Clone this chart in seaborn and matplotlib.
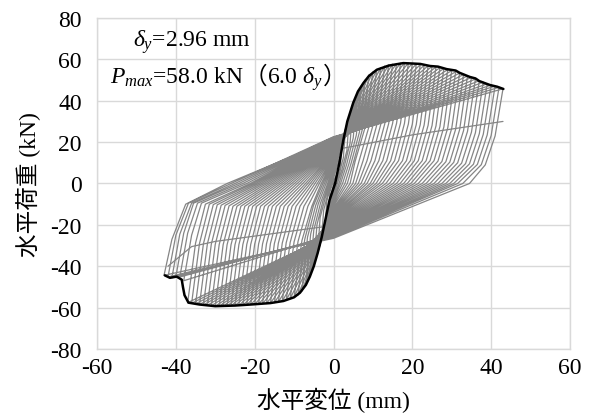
import matplotlib
matplotlib.use("Agg")
import matplotlib.pyplot as plt
import pandas as pd
import seaborn as sns

# cycle amplitudes (mm) and the key points of every loop
amp = [1, 2, 3, 4, 5, 6, 7, 8, 9, 10,
       11, 12, 13, 14, 15, 16, 17, 18, 19, 20,
       21, 22, 23, 24, 25, 26, 27, 28, 29, 30,
       31, 32, 33, 34, 35, 36, 37, 38, 39, 40,
       41, 42, 43]
# peak loads (kN)
f_pos = [5, 15, 25, 32.5, 39, 43.5, 47, 50, 52.5, 54,
         55, 56, 56.8, 57.3, 57.7, 58, 58.2, 58.3, 58.2, 58,
         57.7, 57.4, 57.1, 56.9, 56.6, 56.3, 56, 55.6, 55.1, 54.6,
         54, 53.4, 52.7, 52, 51.3, 50.5, 49.7, 49, 48.2, 47.6,
         47.1, 46.5, 45.8]
f_neg = [-8, -17, -26, -33.5, -40, -45, -49, -52, -54, -55,
         -55.7, -56.4, -56.9, -57.3, -57.6, -57.8, -58, -58.1, -58.3, -58.4,
         -58.5, -58.6, -58.8, -58.9, -59, -59.1, -59.2, -59.3, -59.3, -59.3,
         -59.1, -58.9, -58.7, -58.5, -58.2, -57.9, -57.6, -47, -45.2, -45.1,
         -45.5, -45.2, -44.4]
# unloading curve after the positive peak: two bend points
k1x_pos = [0.9, 1.7, 2.5, 3.4, 4.2, 5.0, 5.8, 6.6, 7.3, 8,
           9, 10, 11, 12, 13, 14, 15, 16, 17, 18,
           19, 20, 21, 22, 23, 24, 25, 26, 27, 28,
           29, 30, 31, 32, 33, 34, 35, 36, 37, 38,
           39, 40, 41]
k1y_pos = [2.5, 7.5, 12.5, 16, 19.5, 22, 23.5, 25, 26, 27,
           27.5, 28, 28.4, 28.6, 28.8, 29, 29.1, 29.1, 29.1, 29,
           28.8, 28.7, 28.5, 28.4, 28.3, 28.1, 28, 27.8, 27.5, 27.3,
           27, 26.7, 26.3, 26, 25.6, 25.2, 24.8, 24.5, 24.1, 23.8,
           23.5, 23.2, 23]
k2x_pos = [0.5, 1.0, 1.5, 2.1, 2.7, 3.3, 3.9, 4.5, 5.1, 5.5,
           6.5, 7.5, 8.5, 9.5, 10.5, 11.5, 12.5, 13.5, 14.5, 15.5,
           16.5, 17.5, 18.5, 19.5, 20.5, 21.5, 22.5, 23.5, 24.5, 25.5,
           26.5, 27.5, 28.5, 29.5, 30.5, 31.5, 32.5, 33.5, 34.5, 35.5,
           36.5, 37.5, 38.5]
k2y_pos = [1, 3, 5, 6.5, 8, 9, 9.5, 10, 10.5, 10.8,
           11, 11, 11, 11, 11, 11, 11, 11, 11, 11,
           11, 11, 11, 11, 11, 11, 11, 11, 11, 11,
           10.8, 10.6, 10.5, 10.3, 10.2, 10, 9.8, 9.6, 9.5, 9.3,
           9.2, 9.1, 9]
# residual displacement at zero load after the positive peak
x0_pos = [0.2, 0.4, 0.7, 1.0, 1.4, 1.8, 2.3, 2.9, 3.5, 4.2,
          4.9, 5.6, 6.3, 7.0, 7.8, 8.5, 9.3, 10.0, 10.8, 11.6,
          12.4, 13.3, 14.2, 15.1, 16.0, 16.9, 17.8, 18.7, 19.6, 20.5,
          21.5, 22.5, 23.5, 24.5, 25.5, 26.5, 27.5, 28.5, 29.5, 30.5,
          31.5, 32.8, 34.5]
# load at zero displacement on the way to the negative peak
y0_neg = [-1, -2.5, -4, -5.5, -7, -8, -9, -10, -11, -12,
          -12.5, -13, -13.5, -14, -14.5, -15, -15.5, -16, -16.5, -17,
          -17.5, -18, -18.5, -19, -19.5, -20, -20.5, -21, -21.5, -22,
          -22.3, -22.6, -23, -23.3, -23.6, -24, -24.3, -24.6, -25, -25.3,
          -25.6, -26, -26.5]
# unloading curve after the negative peak: two bend points
k1x_neg = [-0.9, -1.7, -2.5, -3.4, -4.2, -5.0, -5.8, -6.6, -7.3, -8,
           -9, -10, -11, -12, -13, -14, -15, -16, -17, -18,
           -19, -20, -21, -22, -23, -24, -25, -26, -27, -28,
           -29, -30, -31, -32, -33, -34, -35, -36, -37, -38,
           -39, -40, -41]
k1y_neg = [-4, -8.5, -13, -16.5, -20, -22.5, -24.5, -26, -27, -27.5,
           -28, -28.2, -28.5, -28.6, -28.8, -28.9, -29, -29, -29.1, -29.2,
           -29.2, -29.3, -29.4, -29.4, -29.5, -29.5, -29.6, -29.6, -29.6, -29.6,
           -29.5, -29.4, -29.3, -29.2, -29.1, -29, -28.8, -25, -24, -24,
           -24.5, -25, -27]
k2x_neg = [-0.5, -1.0, -1.5, -2.1, -2.7, -3.3, -3.9, -4.5, -5.1, -5.5,
           -6.5, -7.5, -8.5, -9.5, -10.5, -11.5, -12.5, -13.5, -14.5, -15.5,
           -16.5, -17.5, -18.5, -19.5, -20.5, -21.5, -22.5, -23.5, -24.5, -25.5,
           -26.5, -27.5, -28.5, -29.5, -30.5, -31.5, -32.5, -33.5, -34.5, -35.5,
           -36, -36.8, -37.5]
k2y_neg = [-1.5, -3.5, -5.5, -7, -8.5, -9.5, -10, -10.5, -10.8, -11,
           -11, -11, -11, -11, -11, -11, -11, -11, -11, -11,
           -11, -11, -11, -11, -11, -11, -11, -11, -11, -11,
           -10.8, -10.6, -10.5, -10.3, -10.2, -10, -10, -9.5, -9.5, -9.5,
           -9.5, -9.5, -10]
x0_neg = [-0.2, -0.4, -0.6, -0.9, -1.2, -1.5, -1.9, -2.3, -2.7, -3.1,
          -3.6, -4.1, -4.7, -5.3, -5.9, -6.5, -7.1, -7.8, -8.5, -9.2,
          -9.9, -10.6, -11.3, -12, -12.7, -13.4, -14.1, -14.8, -15.5, -16.2,
          -16.9, -17.6, -18.3, -19, -19.7, -20.4, -21.1, -22, -23, -24,
          -25, -26, -27]
# load at zero displacement on the way to the positive peak
y0_pos = [1, 2.5, 4, 5.5, 7, 8, 9, 10, 10.8, 11.5,
          12, 12.5, 13, 13.5, 14, 14.5, 15, 15.4, 15.8, 16.2,
          16.6, 17, 17.4, 17.8, 18.1, 18.4, 18.7, 19, 19.3, 19.6,
          19.9, 20.2, 20.5, 20.8, 21, 21.2, 21.4, 21.6, 21.8, 22,
          22.2, 22.4, 22.6]
end_x, end_y = 1.6, 22.7

# two stray reload lines from the last cycle
extra_pos_x = [0, 3.4, 20, 43]
extra_pos_y = [16.3, 17.4, 23.5, 30]
extra_neg_x = [1, -30, -36, -42]
extra_neg_y = [-20, -28, -30.5, -40]

# skeleton (envelope) curve
env_pos_x = [0.4, 1.5, 2.5, 3.5, 5, 6.2, 7.6, 9, 11, 14, 17.7, 20, 22, 24.5,
             26.5, 28.7, 31, 32, 34.6, 36, 37, 39.7, 41.5, 43.1]
env_pos_y = [0, 10, 21, 30, 39, 44.5, 48.6, 52, 55, 57, 58.2, 58, 57.8, 56.8,
             56.5, 55.3, 54.6, 53.5, 51.5, 50.8, 49.5, 47.6, 46.8, 45.7]
env_neg_x = [0.4, -1, -2, -3, -4, -5, -6, -7, -8.5, -10, -12.7, -16, -21, -25,
             -30, -34, -36.8, -37.8, -38.2, -38.5, -39.8, -41.5, -42.8]
env_neg_y = [0, -8, -17, -26, -33.5, -40, -45, -49, -52.8, -55, -56.8, -57.8,
             -58.5, -59, -59.3, -58.5, -57.6, -54, -50, -46.5, -45, -45.6, -44.4]

sns.set_style("white")
plt.rcParams["font.family"] = ["Liberation Serif", "Noto Sans CJK JP"]
plt.rcParams["mathtext.fontset"] = "custom"
plt.rcParams["mathtext.rm"] = "Liberation Serif"
plt.rcParams["mathtext.it"] = "Liberation Serif:italic"
plt.rcParams["axes.unicode_minus"] = False
for k in ["text.color", "axes.labelcolor", "xtick.color", "ytick.color"]:
    plt.rcParams[k] = "black"

# whole load history as one path
px, py = [0.0], [0.0]
for i in range(len(amp)):
    px += [0, amp[i], k1x_pos[i], k2x_pos[i], x0_pos[i], 0,
           -amp[i], k1x_neg[i], k2x_neg[i], x0_neg[i]]
    py += [y0_pos[i], f_pos[i], k1y_pos[i], k2y_pos[i], 0, y0_neg[i],
           f_neg[i], k1y_neg[i], k2y_neg[i], 0]
px.append(end_x)
py.append(end_y)
loops = pd.DataFrame({"x": px, "y": py})

extra = pd.DataFrame({
    "x": extra_pos_x + extra_neg_x,
    "y": extra_pos_y + extra_neg_y,
    "part": ["p"] * len(extra_pos_x) + ["n"] * len(extra_neg_x),
})
env = pd.DataFrame({
    "x": env_pos_x + env_neg_x,
    "y": env_pos_y + env_neg_y,
    "part": ["p"] * len(env_pos_x) + ["n"] * len(env_neg_x),
})

fig = plt.figure(figsize=(5.93, 4.14), dpi=100)
ax = fig.add_axes([0.1636, 0.1546, 0.7976, 0.7995])

gray = "#858585"
sns.lineplot(data=loops, x="x", y="y", sort=False, estimator=None,
             color=gray, lw=0.9, ax=ax)
sns.lineplot(data=extra, x="x", y="y", units="part", sort=False, estimator=None,
             color=gray, lw=0.9, ax=ax)
sns.lineplot(data=env, x="x", y="y", units="part", sort=False, estimator=None,
             color="black", lw=1.8, ax=ax)

ax.set_xlim(-60, 60)
ax.set_ylim(-80, 80)
ax.set_xticks(range(-60, 61, 20))
ax.set_yticks(range(-80, 81, 20))
ax.grid(True, color="#d9d9d9", lw=1)
ax.set_axisbelow(True)
for s in ax.spines.values():
    s.set_color("#d9d9d9")
    s.set_linewidth(1)
ax.tick_params(axis="both", length=0, labelsize=17)
ax.tick_params(axis="y", pad=11)
ax.tick_params(axis="x", pad=6)

ax.set_xlabel("水平変位 (mm)", fontsize=17)
ax.set_ylabel("水平荷重 (kN)", fontsize=17)
ax.xaxis.set_label_coords(0.5, -0.115)
ax.yaxis.set_label_coords(-0.118, 0.5)

fs = 17
ax.text(-50.9, 66.7, r"$\delta_y$=2.96 mm", fontsize=fs, va="baseline",
        family="Liberation Serif")
t1 = ax.text(-56.7, 48.6, r"$P_{max}$=58.0 kN", fontsize=fs, va="baseline",
             family="Liberation Serif")
t2 = ax.annotate("（", xy=(1, 48.6), xycoords=(t1, "data"), fontsize=fs,
                 va="baseline", family="Noto Sans CJK JP")
t3 = ax.annotate(r"6.0 $\delta_y$", xy=(1, 48.6), xycoords=(t2, "data"),
                 fontsize=fs, va="baseline", family="Liberation Serif")
ax.annotate("）", xy=(1, 48.6), xycoords=(t3, "data"), fontsize=fs,
            va="baseline", family="Noto Sans CJK JP")

fig.savefig("out.png", dpi=100, facecolor="white")
